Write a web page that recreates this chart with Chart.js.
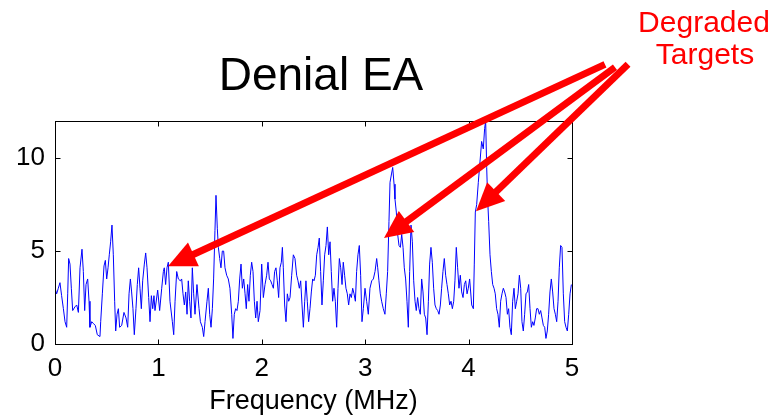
<!DOCTYPE html>
<html>
<head>
<meta charset="utf-8">
<script src="https://cdn.jsdelivr.net/npm/chart.js@4.4.1/dist/chart.umd.min.js"></script>
<style>
  html, body { margin: 0; padding: 0; background: #fff; }
  #wrap { width: 777px; height: 418px; }
</style>
</head>
<body>
<div id="wrap"><canvas id="denialChart" width="777" height="418"></canvas></div>
<script>
// spectrum (MHz, amplitude)
const freqMHz = [
  0.000, 0.016, 0.032, 0.048, 0.064, 0.081, 0.097, 0.113, 0.123, 0.132, 0.145, 0.158, 0.171, 0.193, 0.210, 0.226,
  0.242, 0.261, 0.274, 0.287, 0.300, 0.316, 0.329, 0.338, 0.355, 0.371, 0.390, 0.409, 0.435, 0.442, 0.458, 0.474,
  0.487, 0.500, 0.513, 0.525, 0.538, 0.551, 0.564, 0.577, 0.587, 0.600, 0.613, 0.625, 0.645, 0.667, 0.687, 0.703,
  0.716, 0.729, 0.741, 0.754, 0.767, 0.783, 0.796, 0.809, 0.822, 0.835, 0.848, 0.864, 0.877, 0.890, 0.906, 0.919,
  0.932, 0.945, 0.957,
  0.967, 0.993, 1.012, 1.032, 1.048, 1.057, 1.070, 1.083, 1.096, 1.112, 1.135, 1.148, 1.161, 1.177, 1.193, 1.212,
  1.225, 1.238, 1.251, 1.264, 1.277, 1.289, 1.302, 1.315, 1.328, 1.341, 1.354, 1.373, 1.393, 1.406, 1.425, 1.438,
  1.451, 1.470, 1.483, 1.496, 1.509, 1.522, 1.534, 1.547, 1.557, 1.570, 1.580, 1.593, 1.605, 1.618, 1.631, 1.644,
  1.660, 1.676, 1.692, 1.709, 1.721, 1.734, 1.747, 1.760, 1.773, 1.786, 1.799, 1.812, 1.825, 1.838, 1.850, 1.863,
  1.876, 1.889, 1.902, 1.915, 1.928, 1.941, 1.954, 1.966,
  1.983, 1.999, 2.015, 2.031, 2.047, 2.060, 2.073, 2.086, 2.099, 2.112, 2.124, 2.137, 2.150, 2.163, 2.176, 2.189,
  2.199, 2.208, 2.221, 2.234, 2.247, 2.260, 2.273, 2.289, 2.305, 2.321, 2.337, 2.350, 2.363, 2.376, 2.389, 2.402,
  2.415, 2.427, 2.440, 2.453, 2.466, 2.479, 2.492, 2.505, 2.518, 2.531, 2.544, 2.556, 2.569, 2.582, 2.595, 2.608,
  2.621, 2.634, 2.647, 2.660, 2.672, 2.685, 2.698, 2.711, 2.724, 2.737, 2.750, 2.763, 2.776, 2.788, 2.801, 2.814,
  2.827, 2.840, 2.853, 2.866, 2.879, 2.892, 2.905, 2.917, 2.930, 2.943, 2.956, 2.969, 2.982,
  2.998, 3.014, 3.030, 3.046, 3.063, 3.079, 3.095, 3.111, 3.121, 3.133, 3.146, 3.159, 3.175, 3.191, 3.204, 3.217,
  3.230, 3.240, 3.256, 3.266, 3.279, 3.288, 3.301, 3.314, 3.327, 3.340, 3.353, 3.366, 3.378, 3.391, 3.404, 3.417,
  3.430, 3.443, 3.456, 3.469, 3.482, 3.494, 3.507, 3.520, 3.533, 3.546, 3.559, 3.572, 3.585, 3.598, 3.611, 3.623,
  3.636, 3.649, 3.662, 3.675, 3.688, 3.701, 3.714, 3.727, 3.739, 3.752, 3.765, 3.778, 3.791, 3.804, 3.817, 3.830,
  3.843, 3.856, 3.868, 3.881, 3.894, 3.907, 3.920, 3.933, 3.946, 3.959, 3.972, 3.985, 3.997, 4.010,
  4.030, 4.046, 4.055, 4.065, 4.078, 4.094, 4.110, 4.126, 4.142, 4.155, 4.165, 4.175, 4.184, 4.194, 4.207, 4.220,
  4.233, 4.246, 4.258, 4.271, 4.284, 4.297, 4.310, 4.323, 4.336, 4.349, 4.362, 4.375, 4.387, 4.400, 4.413, 4.426,
  4.439, 4.452, 4.465, 4.478, 4.491, 4.504, 4.516, 4.529, 4.542, 4.555, 4.568, 4.581, 4.594, 4.607, 4.620, 4.632,
  4.645, 4.658, 4.671, 4.684, 4.697, 4.710, 4.723, 4.736, 4.748, 4.761, 4.774, 4.787, 4.800, 4.813, 4.826, 4.839,
  4.852, 4.865, 4.877, 4.890, 4.903, 4.916, 4.929, 4.942, 4.955, 4.968, 4.981, 4.994
]
const amplitude = [
  3.0, 2.7, 3.0, 3.3, 2.6, 1.9, 1.2, 0.9, 2.7, 4.6, 4.3, 3.0, 1.8, 2.0, 2.1, 1.7,
  4.1, 5.1, 3.9, 1.8, 3.2, 3.5, 2.3, 0.9, 1.2, 1.1, 1.0, 0.5, 0.4, 1.2, 2.7, 4.2,
  4.5, 3.5, 4.1, 4.8, 5.5, 6.4, 4.8, 2.3, 0.7, 1.6, 1.9, 0.9, 1.0, 1.7, 1.4, 0.9,
  2.7, 3.5, 2.8, 1.9, 0.5, 1.9, 3.2, 4.1, 3.0, 1.9, 3.4, 4.3, 4.9, 4.1, 2.5, 1.2,
  2.6, 1.9, 2.6,
  1.8, 2.9, 1.8, 3.0, 3.9, 4.1, 3.2, 4.1, 4.4, 2.3, 1.2, 0.5, 2.3, 3.9, 3.5, 3.4,
  3.5, 2.7, 2.1, 2.8, 1.6, 3.4, 2.3, 1.4, 4.1, 2.7, 1.6, 3.2, 1.9, 1.2, 0.9, 0.4,
  1.2, 2.3, 3.0, 1.6, 0.9, 1.9, 3.5, 6.1, 8.0, 6.2, 5.2, 4.6, 4.1, 5.0, 5.0, 4.1,
  3.7, 3.5, 3.0, 1.6, 0.3, 1.6, 1.9, 1.8, 2.3, 3.5, 4.3, 3.0, 3.5, 2.7, 1.9, 3.2,
  2.3, 3.7, 4.4, 3.9, 2.3, 1.4, 2.3, 1.2,
  1.8, 4.3, 2.5, 3.2, 3.7, 4.4, 3.5, 3.4, 3.2, 3.0, 3.9, 4.1, 3.4, 2.5, 4.1, 4.4,
  5.2, 4.1, 2.1, 1.2, 2.7, 2.3, 2.5, 3.7, 4.8, 4.6, 3.7, 3.4, 3.0, 3.4, 2.1, 0.9,
  2.3, 3.4, 2.3, 1.2, 1.9, 2.8, 3.5, 3.4, 3.7, 4.8, 5.2, 5.7, 3.9, 2.1, 3.4, 4.8,
  5.3, 6.3, 4.8, 5.5, 3.9, 2.3, 3.0, 2.3, 0.9, 3.0, 4.6, 4.1, 3.2, 4.4, 3.7, 3.0,
  2.7, 2.1, 2.7, 2.5, 3.0, 2.7, 2.3, 3.9, 4.8, 5.3, 3.7, 1.2, 1.9,
  3.0, 2.3, 1.6, 3.0, 3.4, 3.5, 3.9, 4.6, 4.1, 3.4, 2.7, 2.3, 1.9, 1.6, 2.7, 3.9,
  6.6, 8.7, 9.2, 9.5, 8.6, 7.8, 7.1, 5.9, 5.3, 5.2, 5.9, 5.2, 4.1, 3.5, 2.3, 0.9,
  3.9, 6.4, 5.5, 3.4, 2.3, 1.8, 2.5, 1.9, 1.6, 3.5, 2.8, 1.6, 1.4, 0.5, 2.3, 4.3,
  5.2, 4.4, 3.0, 2.1, 1.9, 1.8, 1.6, 2.1, 3.0, 3.9, 4.6, 3.7, 3.2, 2.7, 2.1, 2.3,
  1.9, 2.3, 3.4, 5.2, 4.1, 3.0, 3.7, 2.8, 2.5, 3.2, 3.4, 2.7, 3.0, 3.5,
  2.1, 1.9, 4.3, 7.1, 7.5, 8.7, 9.8, 10.9, 10.5, 11.6, 12.0, 9.5, 7.8, 6.6, 4.8, 3.9,
  3.2, 3.0, 2.7, 1.9, 1.6, 0.9, 2.3, 2.7, 3.0, 2.8, 2.5, 1.6, 1.9, 0.9, 0.5, 2.3,
  3.0, 1.9, 2.3, 2.7, 3.7, 3.0, 1.2, 0.7, 1.6, 2.7, 2.8, 3.2, 1.9, 0.9, 1.2, 1.0,
  1.4, 1.9, 1.9, 1.6, 1.8, 1.4, 1.0, 0.9, 0.3, 0.7, 1.6, 2.8, 3.5, 2.8, 1.9, 1.6,
  1.2, 2.3, 4.1, 5.3, 5.2, 2.7, 1.2, 0.9, 0.7, 1.6, 2.7, 3.2
]
const xTicks = [0, 1, 2, 3, 4, 5]
const yTicks = [0, 5, 10]
const chartTitle = 'Denial EA'
const xTitle = 'Frequency (MHz)'
const calloutText = ['Degraded', 'Targets']
// arrows in data units: tail (off the plot, upper right) -> tip
const arrowTails = [[5.319, 15.05], [5.416, 14.89], [5.542, 15.05]]
const arrowTips = [[1.093, 4.19], [3.182, 5.70], [4.072, 7.15]]

const FONT = '"Liberation Sans", Arial, sans-serif'

const framePlugin = {
  id: 'frame',
  afterDraw(chart) {
    const { ctx, chartArea: a, scales } = chart
    const l = Math.round(a.left) + 0.5, r = Math.round(a.right) + 0.5
    const t = Math.round(a.top) + 0.5, b = Math.round(a.bottom) + 0.5
    ctx.save()
    ctx.strokeStyle = '#000'
    ctx.lineWidth = 1
    ctx.strokeRect(l, t, r - l, b - t)
    ctx.beginPath()
    xTicks.forEach(v => {
      const x = Math.round(scales.x.getPixelForValue(v)) + 0.5
      ctx.moveTo(x, b); ctx.lineTo(x, b - 5)
      ctx.moveTo(x, t); ctx.lineTo(x, t + 5)
    })
    yTicks.forEach(v => {
      const y = Math.round(scales.y.getPixelForValue(v)) + 0.5
      ctx.moveTo(l, y); ctx.lineTo(l + 5, y)
      ctx.moveTo(r, y); ctx.lineTo(r - 5, y)
    })
    ctx.stroke()

    // title
    ctx.fillStyle = '#000'
    ctx.font = '46px ' + FONT
    ctx.textAlign = 'center'
    ctx.textBaseline = 'alphabetic'
    ctx.fillText(chartTitle, 321, 90)

    // callout
    ctx.fillStyle = '#ff0000'
    ctx.font = '30px ' + FONT
    ctx.fillText(calloutText[0], 704, 32)
    ctx.fillText(calloutText[1], 705, 64)

    // arrows
    ctx.strokeStyle = '#ff0000'
    ctx.lineWidth = 7
    ctx.lineCap = 'butt'
    arrowTips.forEach((tip, i) => {
      const tx = scales.x.getPixelForValue(tip[0]), ty = scales.y.getPixelForValue(tip[1])
      const sx = scales.x.getPixelForValue(arrowTails[i][0]), sy = scales.y.getPixelForValue(arrowTails[i][1])
      const len = Math.hypot(sx - tx, sy - ty)
      const ux = (sx - tx) / len, uy = (sy - ty) / len
      const hl = 28, hw = 13
      const bx = tx + ux * hl, by = ty + uy * hl
      ctx.beginPath()
      ctx.moveTo(sx, sy); ctx.lineTo(bx - ux * 2, by - uy * 2)
      ctx.stroke()
      ctx.beginPath()
      ctx.moveTo(tx, ty)
      ctx.lineTo(bx - uy * hw, by + ux * hw)
      ctx.lineTo(bx + uy * hw, by - ux * hw)
      ctx.closePath()
      ctx.fill()
    })
    ctx.restore()
  }
}

new Chart(document.getElementById('denialChart'), {
  type: 'line',
  data: {
    datasets: [{
      data: freqMHz.map((f, i) => ({ x: f, y: amplitude[i] })),
      borderColor: '#0000ff',
      borderWidth: 1,
      pointRadius: 0,
      tension: 0,
      fill: false
    }]
  },
  options: {
    responsive: false,
    animation: false,
    devicePixelRatio: 1,
    layout: { padding: { left: 0, top: 121, right: 205, bottom: 0 } },
    plugins: { legend: { display: false }, tooltip: { enabled: false } },
    scales: {
      x: {
        type: 'linear', min: 0, max: 5,
        afterBuildTicks: s => { s.ticks = xTicks.map(v => ({ value: v })) },
        afterFit: s => { s.height = 74 },
        grid: { display: false, drawTicks: false, tickLength: 0 },
        border: { display: false },
        ticks: { color: '#000', padding: 9, maxRotation: 0, font: { family: FONT, size: 26 } },
        title: { display: true, text: xTitle, color: '#000', padding: 0, font: { family: FONT, size: 27 } }
      },
      y: {
        type: 'linear', min: 0, max: 12,
        afterBuildTicks: s => { s.ticks = yTicks.map(v => ({ value: v })) },
        afterFit: s => { s.width = 55 },
        grid: { display: false, drawTicks: false, tickLength: 0 },
        border: { display: false },
        ticks: { color: '#000', padding: 10, font: { family: FONT, size: 26 } }
      }
    }
  },
  plugins: [framePlugin]
})
</script>
</body>
</html>
